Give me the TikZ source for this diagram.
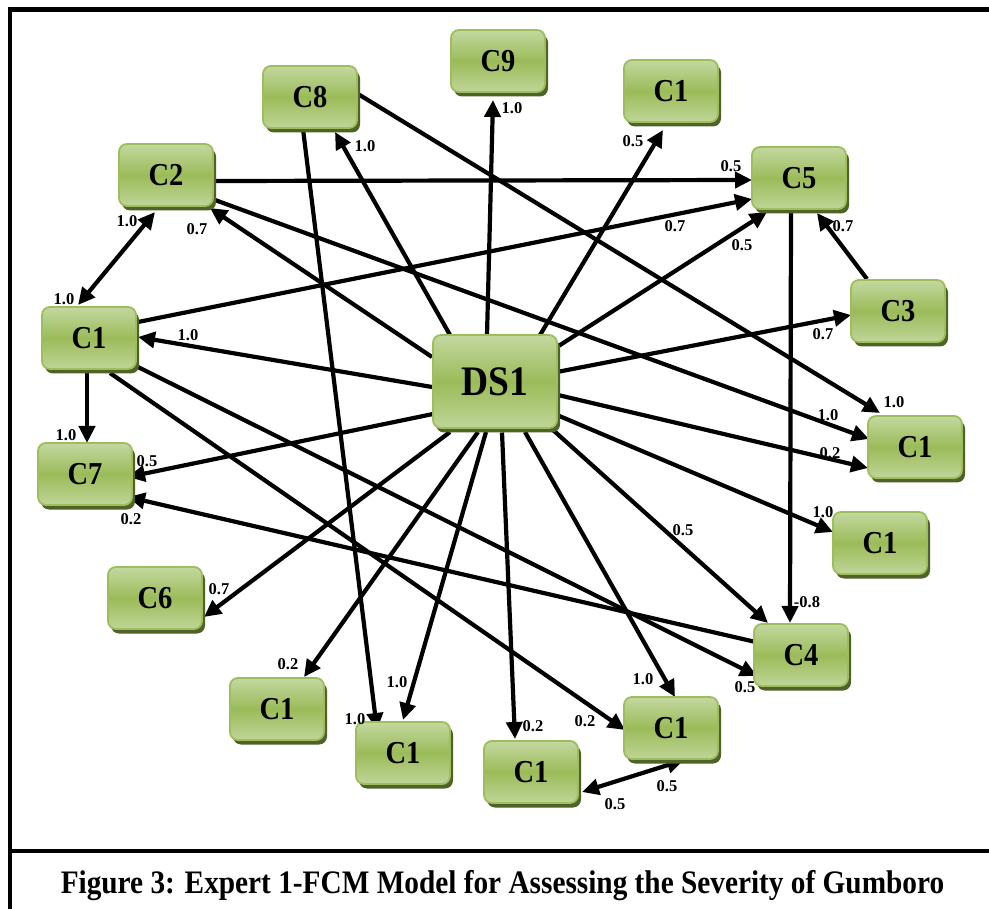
\documentclass[tikz,border=0pt]{standalone}
\usepackage{fontspec}
\usepackage{graphicx}
\setmainfont{Liberation Serif}
\usetikzlibrary{arrows.meta,shadows,backgrounds}
\definecolor{gtop}{HTML}{C4D8A0}
\definecolor{gmid}{HTML}{9BBB59}
\definecolor{gbot}{HTML}{C0D598}
\definecolor{gborder}{HTML}{9CBE5C}
\definecolor{gshadow}{HTML}{4F6228}
\newcommand{\vstr}[1]{\scalebox{1}[1.12]{#1}}
\tikzset{
 box/.style={rectangle, rounded corners=8pt, draw=gborder, line width=1.8pt,
   top color=gtop, bottom color=gbot, middle color=gmid,
   minimum width=94pt, minimum height=62pt, inner sep=0pt,
   font=\fontsize{28.5}{28}\selectfont\bfseries,
   drop shadow={shadow xshift=3pt, shadow yshift=-4.5pt, fill=gshadow, opacity=1}},
 bigbox/.style={box, minimum width=124pt, minimum height=93pt, font=\fontsize{37.5}{37}\selectfont\bfseries},
 arr/.style={line width=4.2pt, -{Triangle[length=17pt,width=16pt]}},
 darr/.style={line width=4.2pt, {Triangle[length=17pt,width=16pt]}-{Triangle[length=17pt,width=16pt]}},
 lab/.style={inner sep=0pt, font=\fontsize{16.5}{17}\selectfont\bfseries},
}
\begin{document}
\begin{tikzpicture}[x=1pt,y=-1pt]
\useasboundingbox (0,0) rectangle (989,909);
% frame
\draw[line width=4.2pt] (989,9.5) -- (10,9.5) -- (10,909);
\draw[line width=4.2pt] (10,851) -- (989,851);
% nodes
\node[bigbox] (DS1) at (495,381.5) {\vstr{DS1}};
\node[box] (c8) at (310,97) {\vstr{C8}};
\node[box] (c2) at (166,175) {\vstr{C2}};
\node[box] (c9) at (498,61) {\vstr{C9}};
\node[box] (c1top) at (671,91) {\vstr{C1}};
\node[box] (c5) at (799,178) {\vstr{C5}};
\node[box] (c3) at (898,311) {\vstr{C3}};
\node[box] (c1ru) at (915,447) {\vstr{C1}};
\node[box] (c1rl) at (880,543) {\vstr{C1}};
\node[box] (c1l) at (89,338) {\vstr{C1}};
\node[box] (c7) at (85,474) {\vstr{C7}};
\node[box] (c6) at (155,598) {\vstr{C6}};
\node[box] (c1a) at (277,709) {\vstr{C1}};
\node[box] (c1b) at (403,753) {\vstr{C1}};
\node[box] (c1c) at (531,772) {\vstr{C1}};
\node[box] (c1d) at (671,728) {\vstr{C1}};
\node[box] (c4) at (801,655) {\vstr{C4}};
% edges
\begin{scope}[on background layer]
\fill[white] (0,0) rectangle (989,909);
\draw[darr] ([shift={(-11,37)}]c2.center) -- ([shift={(-11,-33)}]c1l.center);
\draw[arr] ([shift={(-63,-24.5)}]DS1.center) -- ([shift={(44,33)}]c2.center);
\draw[arr] ([shift={(49,6)}]c2.center) -- ([shift={(-47,2)}]c5.center);
\draw[arr] ([shift={(49,25)}]c2.center) -- ([shift={(-46,-8)}]c1ru.center);
\draw[arr] ([shift={(48,-3)}]c8.center) -- ([shift={(-35,-34)}]c1ru.center);
\draw[arr] ([shift={(-45,-46.5)}]DS1.center) -- ([shift={(25,35)}]c8.center);
\draw[arr] ([shift={(-7,32)}]c8.center) -- ([shift={(-26,-23)}]c1b.center);
\draw[arr] ([shift={(-8,-46.5)}]DS1.center) -- ([shift={(-5,39)}]c9.center);
\draw[arr] ([shift={(45,-46.5)}]DS1.center) -- ([shift={(-8,39)}]c1top.center);
\draw[arr] ([shift={(62,-34.5)}]DS1.center) -- ([shift={(-32,34)}]c5.center);
\draw[arr] ([shift={(44,-15)}]c1l.center) -- ([shift={(-47,21)}]c5.center);
\draw[arr] ([shift={(-31,-32)}]c3.center) -- ([shift={(18,35)}]c5.center);
\draw[arr] ([shift={(-8,34)}]c5.center) -- ([shift={(-11,-32)}]c4.center);
\draw[arr] ([shift={(62,-9.5)}]DS1.center) -- ([shift={(-47,4)}]c3.center);
\draw[arr] ([shift={(63,13.5)}]DS1.center) -- ([shift={(-47,21)}]c1ru.center);
\draw[arr] ([shift={(62,33.5)}]DS1.center) -- ([shift={(-47,-11)}]c1rl.center);
\draw[arr] ([shift={(58,48.5)}]DS1.center) -- ([shift={(-33,-32)}]c4.center);
\draw[arr] ([shift={(-63,5.5)}]DS1.center) -- ([shift={(49,-1)}]c1l.center);
\draw[arr] ([shift={(-62,32.5)}]DS1.center) -- ([shift={(43,3)}]c7.center);
\draw[arr] ([shift={(-41,-12)}]c4.center) -- ([shift={(43,23)}]c7.center);
\draw[arr] ([shift={(-2,32)}]c1l.center) -- ([shift={(2,-31)}]c7.center);
\draw[arr] ([shift={(49,29)}]c1l.center) -- ([shift={(-44,21)}]c4.center);
\draw[arr] ([shift={(21,35)}]c1l.center) -- ([shift={(-46,2)}]c1d.center);
\draw[arr] ([shift={(-45,50.5)}]DS1.center) -- ([shift={(49,19)}]c6.center);
\draw[arr] ([shift={(-17,50.5)}]DS1.center) -- ([shift={(27,-32)}]c1a.center);
\draw[arr] ([shift={(-9,50.5)}]DS1.center) -- ([shift={(0,-33)}]c1b.center);
\draw[arr] ([shift={(7,51)}]DS1.center) -- ([shift={(-16,-33)}]c1c.center);
\draw[arr] ([shift={(30,50.5)}]DS1.center) -- ([shift={(4,-31)}]c1d.center);
\draw[darr] ([shift={(51,20)}]c1c.center) -- ([shift={(13,32)}]c1d.center);
\end{scope}
% labels
\node[lab] (l1) at (127,221) {1.0};
\node[lab] (l2) at (64,299) {1.0};
\node[lab] (l3) at (197,229) {0.7};
\node[lab] (l4) at (731,166) {0.5};
\node[lab] (l5) at (828,415) {1.0};
\node[lab] (l6) at (894,402) {1.0};
\node[lab] (l7) at (365,146) {1.0};
\node[lab] (l8) at (355,719) {1.0};
\node[lab] (l9) at (512,108) {1.0};
\node[lab] (l10) at (633,141) {0.5};
\node[lab] (l11) at (742,245) {0.5};
\node[lab] (l12) at (675,226) {0.7};
\node[lab] (l13) at (843,226) {0.7};
\node[lab] (l14) at (807,602) {-0.8};
\node[lab] (l15) at (823,334) {0.7};
\node[lab] (l16) at (830,453) {0.2};
\node[lab] (l17) at (823,512) {1.0};
\node[lab] (l18) at (683,530) {0.5};
\node[lab] (l19) at (188,335) {1.0};
\node[lab] (l20) at (147,461) {0.5};
\node[lab] (l21) at (131,519) {0.2};
\node[lab] (l22) at (66,435) {1.0};
\node[lab] (l23) at (745,687) {0.5};
\node[lab] (l24) at (585,721) {0.2};
\node[lab] (l25) at (219,589) {0.7};
\node[lab] (l26) at (288,664) {0.2};
\node[lab] (l27) at (397,682) {1.0};
\node[lab] (l28) at (533,726) {0.2};
\node[lab] (l29) at (643,679) {1.0};
\node[lab] (l30) at (615,804) {0.5};
\node[lab] (l31) at (667,786) {0.5};
% caption
\node[inner sep=0pt, font=\fontsize{29.3}{30}\selectfont\bfseries] (cap) at (502.5,886) {\vstr{Figure 3: Expert 1-FCM Model for Assessing the Severity of Gumboro}};
\end{tikzpicture}
\end{document}
